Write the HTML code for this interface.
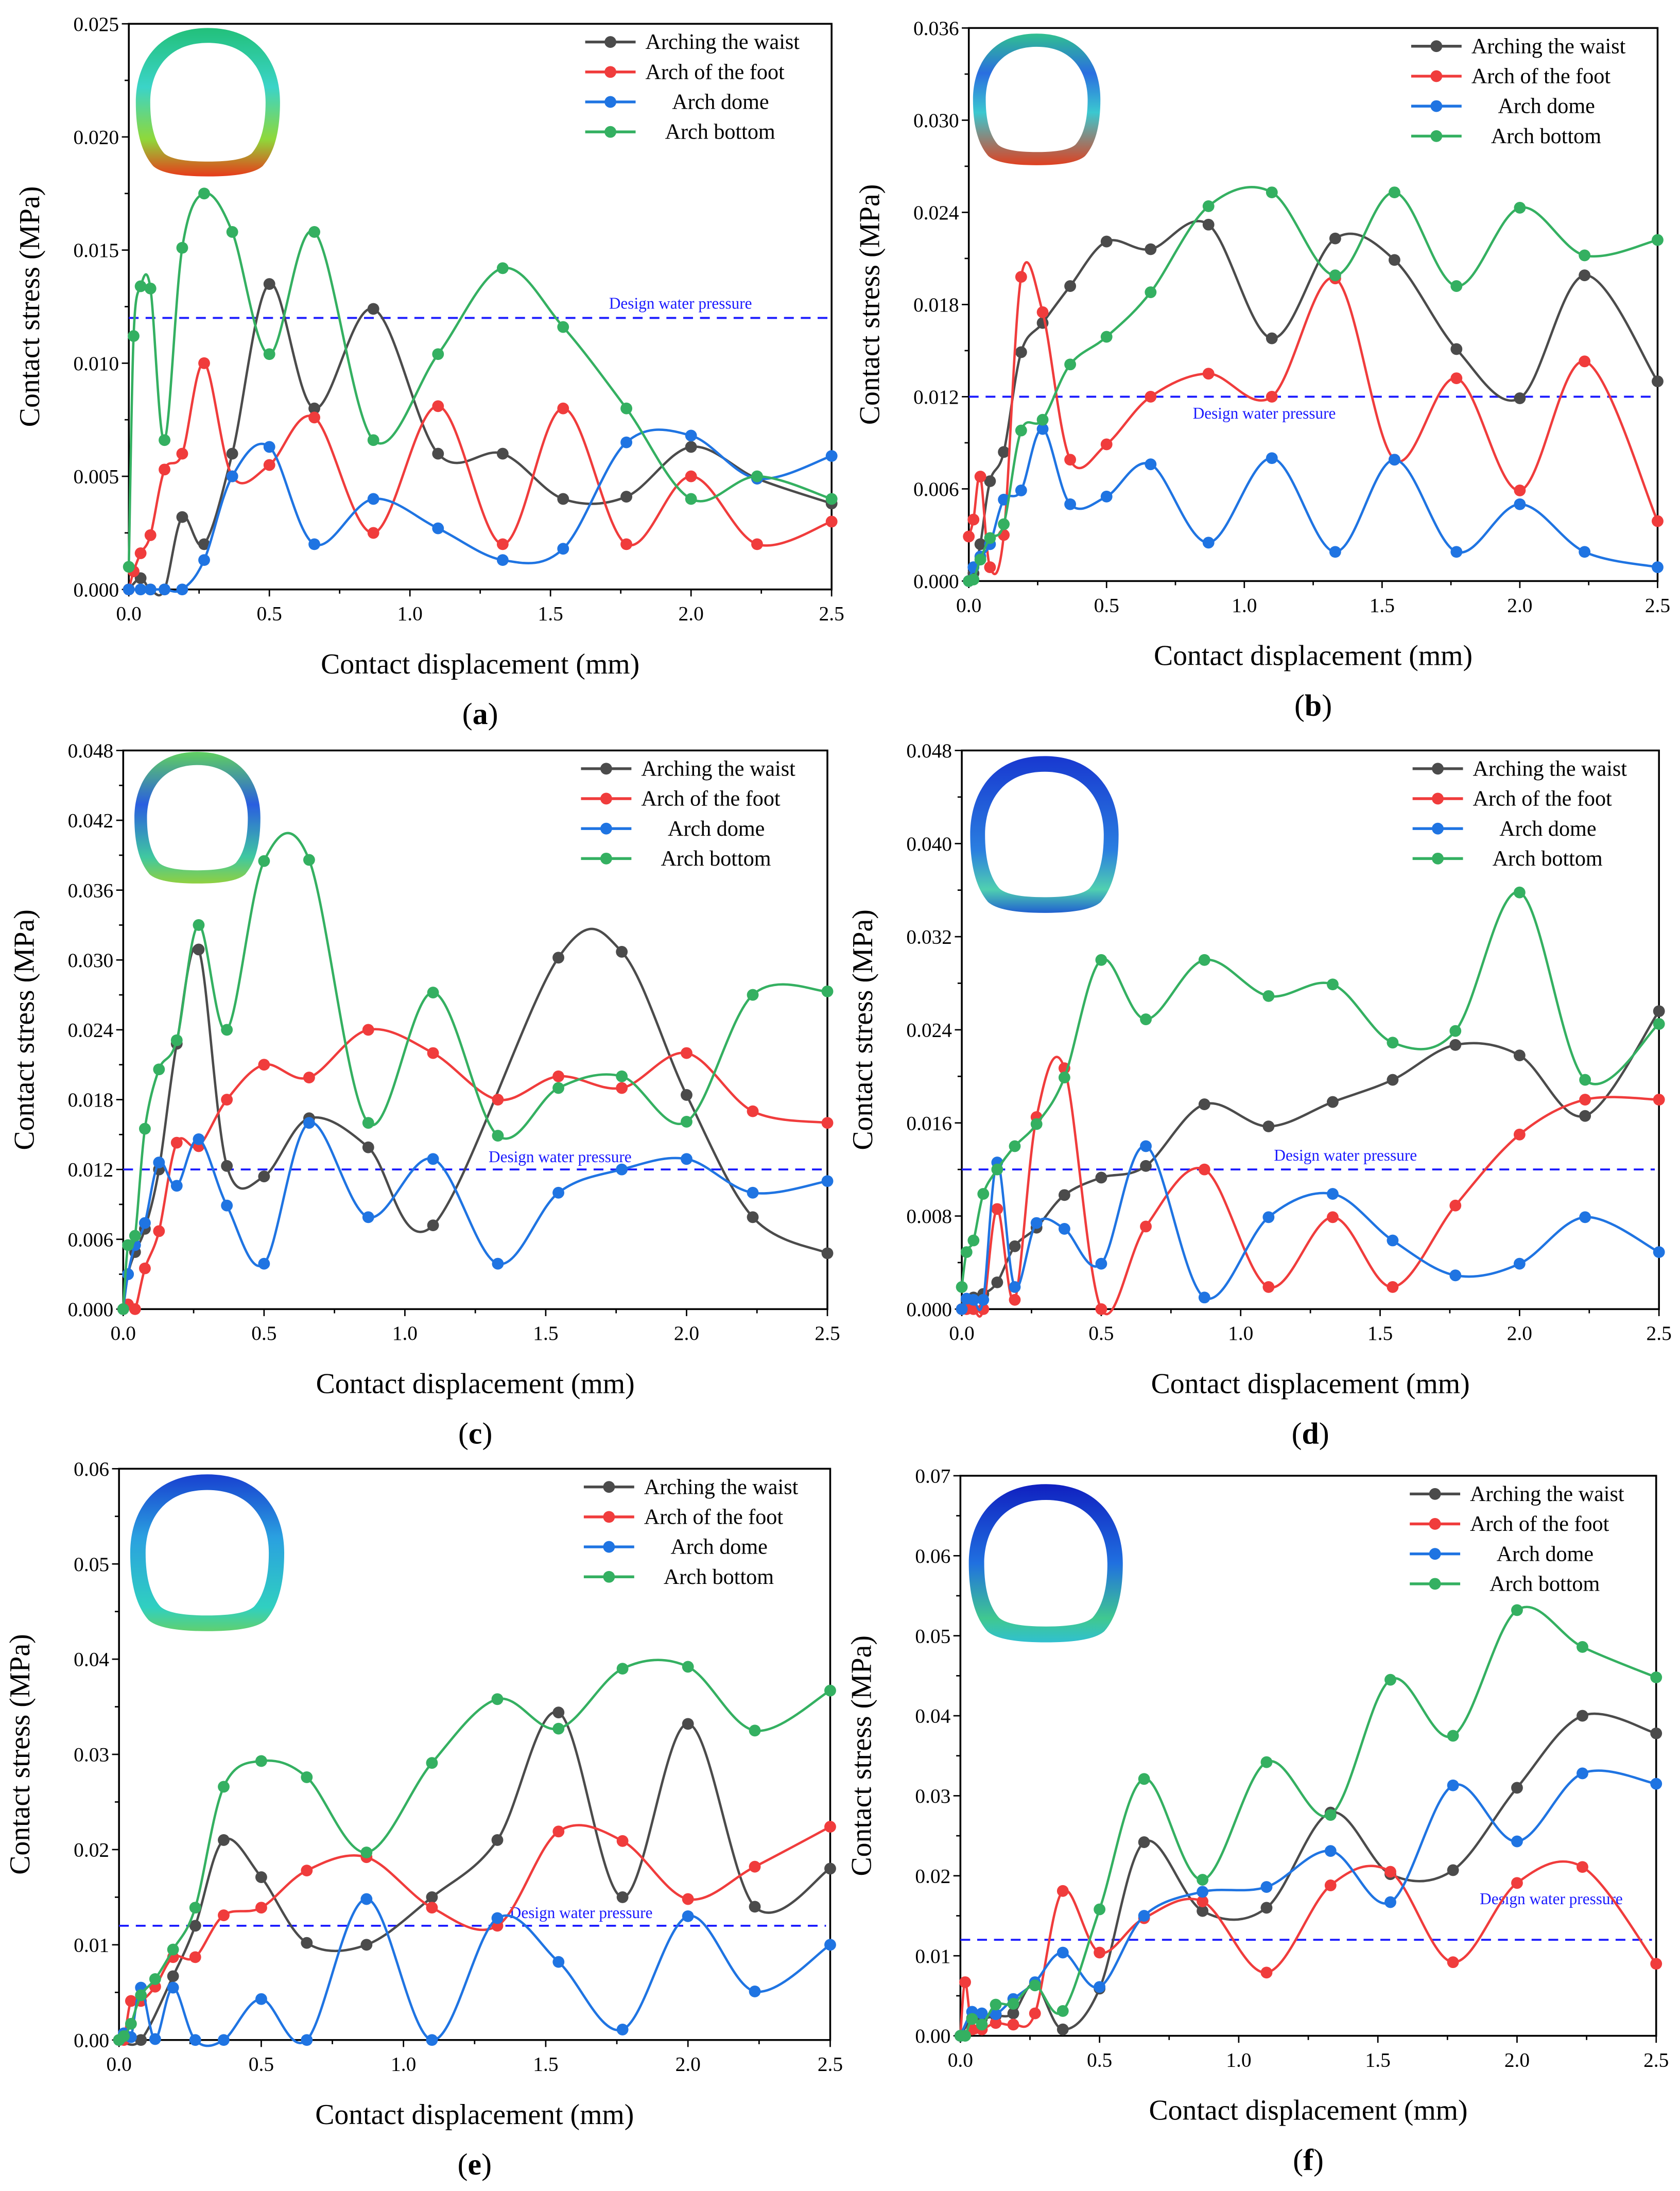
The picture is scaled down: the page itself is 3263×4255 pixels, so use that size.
<!DOCTYPE html>
<html><head><meta charset="utf-8"><style>
html,body{margin:0;padding:0;background:#fff;}
svg{display:block;}
svg text{font-family:"Liberation Serif","DejaVu Serif",serif;}
</style></head><body>
<svg id="fig" xmlns="http://www.w3.org/2000/svg" width="3263" height="4255" viewBox="0 0 1200 1564.85" font-family="'Liberation Serif', 'DejaVu Serif', serif">
<rect width="1200" height="1564.85" fill="#fff"/>
<defs>
<linearGradient id="gA" x1="0" y1="0" x2="0" y2="1"><stop offset="0" stop-color="#22c07a"/><stop offset="0.4" stop-color="#3bd4c8"/><stop offset="0.75" stop-color="#8fd83a"/><stop offset="1" stop-color="#e83a1a"/></linearGradient>
<linearGradient id="gB" x1="0" y1="0" x2="0" y2="1"><stop offset="0" stop-color="#30c090"/><stop offset="0.3" stop-color="#2a6ee0"/><stop offset="0.6" stop-color="#3bc8d0"/><stop offset="1" stop-color="#e04020"/></linearGradient>
<linearGradient id="gC" x1="0" y1="0" x2="0" y2="1"><stop offset="0" stop-color="#60d060"/><stop offset="0.4" stop-color="#2a5ee0"/><stop offset="0.8" stop-color="#40c8a0"/><stop offset="1" stop-color="#90d040"/></linearGradient>
<linearGradient id="gD" x1="0" y1="0" x2="0" y2="1"><stop offset="0" stop-color="#1838d0"/><stop offset="0.6" stop-color="#2a7ee0"/><stop offset="0.85" stop-color="#50d0b0"/><stop offset="1" stop-color="#2060d0"/></linearGradient>
<linearGradient id="gE" x1="0" y1="0" x2="0" y2="1"><stop offset="0" stop-color="#1840d0"/><stop offset="0.4" stop-color="#2aa0e0"/><stop offset="0.85" stop-color="#30d0c0"/><stop offset="1" stop-color="#60d070"/></linearGradient>
<linearGradient id="gF" x1="0" y1="0" x2="0" y2="1"><stop offset="0" stop-color="#1020c0"/><stop offset="0.5" stop-color="#2070e0"/><stop offset="0.85" stop-color="#40c890"/><stop offset="1" stop-color="#30c0d0"/></linearGradient>
</defs>
</svg>
<script>
// shared x values (mm)
const X=[0,0.017,0.042,0.077,0.127,0.19,0.268,0.368,0.5,0.66,0.87,1.1,1.33,1.545,1.77,2.0,2.235,2.5];
const xTicks=["0.0","0.5","1.0","1.5","2.0","2.5"];
const seriesNames=["Arching the waist","Arch of the foot","Arch dome","Arch bottom"];
const designPressure=0.012;

const aBlack=[0,null,0.0005,0,0,0.0032,0.002,0.006,0.0135,0.008,0.0124,0.006,0.006,0.004,0.0041,0.0063,0.0049,0.0038];
const aRed=[0,0.0008,0.0016,0.0024,0.0053,0.006,0.01,0.005,0.0055,0.0076,0.0025,0.0081,0.002,0.008,0.002,0.005,0.002,0.003];
const aBlue=[0,null,0,0,0,0,0.0013,0.005,0.0063,0.002,0.004,0.0027,0.0013,0.0018,0.0065,0.0068,0.0049,0.0059];
const aGreen=[0.001,0.0112,0.0134,0.0133,0.0066,0.0151,0.0175,0.0158,0.0104,0.0158,0.0066,0.0104,0.0142,0.0116,0.008,0.004,0.005,0.004];
const aYTicks=["0.000","0.005","0.010","0.015","0.020","0.025"];

const bBlack=[0,0.0005,0.0024,0.0065,0.0084,0.0149,0.0168,0.0192,0.0221,0.0216,0.0232,0.0158,0.0223,0.0209,0.0151,0.0119,0.0199,0.013];
const bRed=[0.0029,0.004,0.0068,0.0009,0.003,0.0198,0.0175,0.0079,0.0089,0.012,0.0135,0.012,0.0197,0.0079,0.0132,0.0059,0.0143,0.0039];
const bBlue=[0,0.0009,0.0016,0.0024,0.0053,0.0059,0.0099,0.005,0.0055,0.0076,0.0025,0.008,0.0019,0.0079,0.0019,0.005,0.0019,0.0009];
const bGreen=[0,0.0001,0.0014,0.0028,0.0037,0.0098,0.0105,0.0141,0.0159,0.0188,0.0244,0.0253,0.0199,0.0253,0.0192,0.0243,0.0212,0.0222];
const bYTicks=["0.000","0.006","0.012","0.018","0.024","0.030","0.036"];

const cBlack=[0,0.003,0.0049,0.0069,0.012,0.0228,0.0309,0.0123,0.0114,0.0164,0.0139,0.0072,null,0.0302,0.0307,0.0184,0.0079,0.0048];
const cRed=[0,0.0004,0,0.0035,0.0067,0.0143,0.014,0.018,0.021,0.0199,0.024,0.022,0.018,0.02,0.019,0.022,0.017,0.016];
const cBlue=[0,0.003,0.0055,0.0074,0.0126,0.0106,0.0146,0.0089,0.0039,0.016,0.0079,0.0129,0.0039,0.01,0.012,0.0129,0.01,0.011];
const cGreen=[0,0.0055,0.0063,0.0155,0.0206,0.0231,0.033,0.024,0.0385,0.0386,0.016,0.0272,0.0149,0.019,0.02,0.0161,0.027,0.0273];
const cYTicks=["0.000","0.006","0.012","0.018","0.024","0.030","0.036","0.042","0.048"];

const dBlack=[0,0.0008,0.001,0.0013,0.0023,0.0054,0.007,0.0098,0.0113,0.0123,0.0176,0.0157,0.0178,0.0197,0.0227,0.0218,0.0166,0.0256];
const dRed=[0,0,0,0,0.0086,0.0008,0.0165,0.0207,0,0.0071,0.012,0.0019,0.0079,0.0019,0.0089,0.015,0.018,0.018];
const dBlue=[0,0.0009,0.0008,0.0008,0.0126,0.0019,0.0074,0.0069,0.0039,0.014,0.001,0.0079,0.0099,0.0059,0.0029,0.0039,0.0079,0.0049];
const dGreen=[0.0019,0.0049,0.0059,0.0099,0.012,0.014,0.0159,0.0199,0.03,0.0249,0.03,0.0269,0.0279,0.0229,0.0239,0.0358,0.0197,0.0245];
const dYTicks=["0.000","0.008","0.016","0.024","0.032","0.040","0.048"];

const eBlack=[0,null,null,0,null,0.0067,0.012,0.021,0.0171,0.0102,0.01,0.015,0.021,0.0344,0.015,0.0332,0.014,0.018];
const eRed=[0,0,0.0041,0.0041,0.0056,0.0087,0.0087,0.0131,0.0139,0.0178,0.0192,0.0139,0.012,0.0219,0.0209,0.0148,0.0182,0.0224];
const eBlue=[0,0.0007,0.0003,0.0055,0.0001,0.0055,0,0,0.0043,0,0.0148,0,0.0128,0.0082,0.0011,0.013,0.0051,0.01];
const eGreen=[0,0.0004,0.0017,0.0047,0.0064,0.0095,0.0139,0.0266,0.0293,0.0276,0.0197,0.0291,0.0358,0.0327,0.039,0.0392,0.0325,0.0367];
const eYTicks=["0.00","0.01","0.02","0.03","0.04","0.05","0.06"];

const fBlack=[0,null,0.0022,0.0021,0.0025,0.0028,0.0065,0.0008,0.0059,0.0242,0.0156,0.016,0.0279,0.0202,0.0207,0.031,0.04,0.0378];
const fRed=[0,0.0067,0.0008,0.0008,0.0016,0.0014,0.0028,0.0181,0.0104,0.0147,0.0168,0.0079,0.0188,0.0205,0.0092,0.0191,0.0211,0.009];
const fBlue=[0,null,0.003,0.0028,0.0027,0.0046,0.0067,0.0104,0.0061,0.015,0.018,0.0186,0.0231,0.0167,0.0313,0.0243,0.0328,0.0315];
const fGreen=[0,0,0.0021,0.0014,0.0039,0.004,0.0063,0.0031,0.0158,0.0321,0.0195,0.0342,0.0276,0.0445,0.0375,0.0532,0.0486,0.0448];
const fYTicks=["0.00","0.01","0.02","0.03","0.04","0.05","0.06","0.07"];

const COLORS=["#4b4b4b","#f03c3c","#1f74e2","#34b061"];
const FONT="'Liberation Serif', 'DejaVu Serif', serif";
const NS="http://www.w3.org/2000/svg";
const svg=document.getElementById('fig');
function mk(tag,attrs,parent){const e=document.createElementNS(NS,tag);for(const k in attrs)e.setAttribute(k,attrs[k]);if(tag==='text')e.setAttribute('font-family',FONT);(parent||svg).appendChild(e);return e;}

const panels=[
 {id:'a',x0:92,x1:594,yt:17,yb:421,ymax:0.025,ticks:aYTicks,series:[aBlack,aRed,aBlue,aGreen],dx:435,dy:220.5,grad:'gA',ins:[97,20,103,106]},
 {id:'b',x0:692,x1:1184,yt:20,yb:415,ymax:0.036,ticks:bYTicks,series:[bBlack,bRed,bBlue,bGreen],dx:852,dy:299,grad:'gB',ins:[695,24,91,94]},
 {id:'c',x0:88,x1:591,yt:536,yb:935,ymax:0.048,ticks:cYTicks,series:[cBlack,cRed,cBlue,cGreen],dx:349,dy:830,grad:'gC',ins:[96,537,90,94]},
 {id:'d',x0:687,x1:1185,yt:536,yb:935,ymax:0.048,ticks:dYTicks,series:[dBlack,dRed,dBlue,dGreen],dx:910,dy:829,grad:'gD',ins:[693,540,106,112]},
 {id:'e',x0:85,x1:593,yt:1049,yb:1457,ymax:0.06,ticks:eYTicks,series:[eBlack,eRed,eBlue,eGreen],dx:364,dy:1370,grad:'gE',ins:[93,1053,110,112]},
 {id:'f',x0:686,x1:1183,yt:1054,yb:1454,ymax:0.07,ticks:fYTicks,series:[fBlack,fRed,fBlue,fGreen],dx:1057,dy:1360,grad:'gF',ins:[692,1060,110,113]}
];

function spline(pts){
 if(pts.length<2)return '';
 let d='M'+pts[0][0].toFixed(2)+','+pts[0][1].toFixed(2);
 for(let i=0;i<pts.length-1;i++){
  const p0=pts[i-1]||pts[i],p1=pts[i],p2=pts[i+1],p3=pts[i+2]||pts[i+1];
  const c1=[p1[0]+(p2[0]-p0[0])/6,p1[1]+(p2[1]-p0[1])/6];
  const c2=[p2[0]-(p3[0]-p1[0])/6,p2[1]-(p3[1]-p1[1])/6];
  d+=' C'+c1[0].toFixed(2)+','+c1[1].toFixed(2)+' '+c2[0].toFixed(2)+','+c2[1].toFixed(2)+' '+p2[0].toFixed(2)+','+p2[1].toFixed(2);
 }
 return d;
}

function tunnel(g,x,y,w,h,grad){
 const o=(u,v)=>(x+u*w).toFixed(1)+','+(y+v*h).toFixed(1);
 const shape=(s)=>{const k=(u,v)=>o(0.5+(u-0.5)*s,0.5+(v-0.5)*s);
  return 'M'+k(0.5,0)+' C'+k(0.86,0)+' '+k(1,0.25)+' '+k(1,0.5)+' C'+k(1,0.7)+' '+k(0.96,0.84)+' '+k(0.88,0.93)+' Q'+k(0.8,1)+' '+k(0.5,1)+' Q'+k(0.2,1)+' '+k(0.12,0.93)+' C'+k(0.04,0.84)+' '+k(0,0.7)+' '+k(0,0.5)+' C'+k(0,0.25)+' '+k(0.14,0)+' '+k(0.5,0)+' Z';};
 const p=mk('path',{d:shape(1)+' '+shape(0.8),'fill-rule':'evenodd',fill:'url(#'+grad+')'},g);
 
 
}

panels.forEach(P=>{
 const g=mk('g',{});
 
 
 const sx=v=>P.x0+(v/2.5)*(P.x1-P.x0);
 const sy=v=>P.yb-(v/P.ymax)*(P.yb-P.yt);
 tunnel(g,P.ins[0],P.ins[1],P.ins[2],P.ins[3],P.grad);
 const fr=mk('rect',{x:P.x0,y:P.yt,width:P.x1-P.x0,height:P.yb-P.yt,fill:'none',stroke:'#000','stroke-width':1.3},g);
 
 
 const n=P.ticks.length-1;
 for(let i=0;i<=n;i++){
  const v=P.ymax*i/n, y=sy(v);
  mk('line',{x1:P.x0-5,x2:P.x0,y1:y,y2:y,stroke:'#000','stroke-width':1},g);
  if(i<n){const ym=sy(v+P.ymax/n/2);mk('line',{x1:P.x0-3,x2:P.x0,y1:ym,y2:ym,stroke:'#000','stroke-width':1},g);}
  const t=mk('text',{x:P.x0-7,y:y+5,'text-anchor':'end','font-size':14.5,fill:'#000'},g);
  t.textContent=P.ticks[i];
  
  
 }
 for(let i=0;i<xTicks.length;i++){
  const v=i*0.5,x=sx(v);
  mk('line',{x1:x,x2:x,y1:P.yb,y2:P.yb+5,stroke:'#000','stroke-width':1},g);
  if(i<xTicks.length-1){const xm=sx(v+0.25);mk('line',{x1:xm,x2:xm,y1:P.yb,y2:P.yb+3,stroke:'#000','stroke-width':1},g);}
  const t=mk('text',{x:x,y:P.yb+22,'text-anchor':'middle','font-size':14.5,fill:'#000'},g);
  t.textContent=xTicks[i];
  
  
 }
 const xt=mk('text',{x:(P.x0+P.x1)/2,y:P.yb+60,'text-anchor':'middle','font-size':20.5,fill:'#000'},g);
 xt.textContent='Contact displacement (mm)';
 
 
 const ymid=(P.yt+P.yb)/2, yx=P.x0-64;
 const yt=mk('text',{x:yx,y:ymid,'text-anchor':'middle','font-size':20.5,fill:'#000',transform:'rotate(-90 '+yx+' '+ymid+')'},g);
 yt.textContent='Contact stress (MPa)';
 
 
 const cap=mk('text',{x:(P.x0+P.x1)/2,y:P.yb+96,'text-anchor':'middle','font-size':22,fill:'#000'},g);
 cap.innerHTML='(<tspan font-weight="bold">'+P.id+'</tspan>)';
 
 
 const dl=mk('line',{x1:P.x0,x2:P.x1-3,y1:sy(designPressure),y2:sy(designPressure),stroke:'#1a1aff','stroke-width':1.4,'stroke-dasharray':'7,5'},g);
 
 
 const dt=mk('text',{x:P.dx,y:P.dy,'font-size':11.5,fill:'#1a1aff'},g);
 dt.textContent='Design water pressure';
 
 
 P.series.forEach((arr,si)=>{
  const pts=[];
  arr.forEach((v,i)=>{if(v!==null)pts.push([sx(X[i]),sy(v)]);});
  const line=mk('path',{d:spline(pts),fill:'none',stroke:COLORS[si],'stroke-width':1.7},g);
  
  
  pts.forEach(p=>{
   const c=mk('circle',{cx:p[0],cy:p[1],r:4.2,fill:COLORS[si]},g);
   
   
  });
 });
 const lx=P.x1-176;
 seriesNames.forEach((nm,i)=>{
  const y=P.yt+13+21.4*i;
  const ll=mk('line',{x1:lx,x2:lx+36,y1:y,y2:y,stroke:COLORS[i],'stroke-width':2},g);
  
  
  mk('circle',{cx:lx+18,cy:y,r:4.2,fill:COLORS[i]},g);
  const off=[0,0,19,14][i];
  const t=mk('text',{x:lx+43+off,y:y+5,'font-size':15.5,fill:'#000'},g);
  t.textContent=nm;
  
  
 });
});
</script>
</body></html>
